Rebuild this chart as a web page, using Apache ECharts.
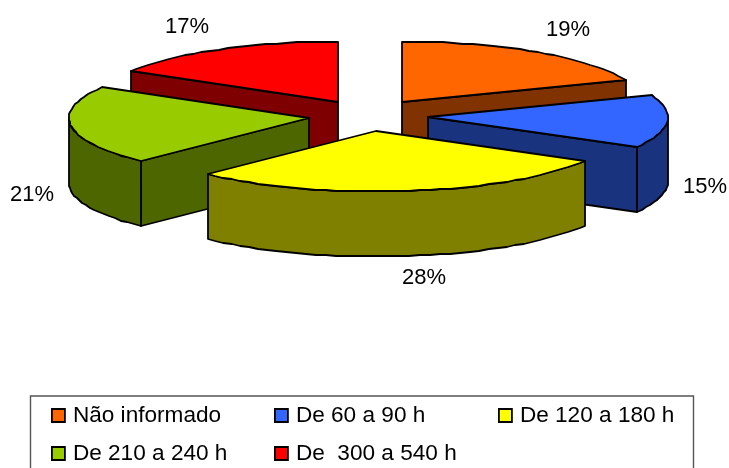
<!DOCTYPE html>
<html>
<head>
<meta charset="utf-8">
<style>html,body{margin:0;padding:0;background:#fff}#chart{width:729px;height:468px}</style>
<script src="https://cdn.jsdelivr.net/npm/echarts@6/dist/echarts.min.js"></script>
</head>
<body>
<div id="chart"></div>
<script>
// Workload bands and their share of respondents, clockwise from 12 o'clock.
const categories = ['Não informado', 'De 60 a 90 h', 'De 120 a 180 h', 'De 210 a 240 h', 'De  300 a 540 h'];
const shares = [19, 15, 28, 21, 17];
const topColors = ['#FF6600', '#3366FF', '#FFFF00', '#99CC00', '#FF0000'];
const wallColors = ['#803300', '#1A337F', '#808000', '#4D6600', '#7F0000'];
// Centre of each percentage label, by slice.
const labelCentres = [[568, 30], [705, 187], [424, 278], [32, 195], [187, 27]];
// Slices are painted far-to-near so the front ones overlap the back ones.
const paintOrder = [4, 0, 3, 1, 2];
// Foreshortening of the tilted disc, in degrees, at each slice boundary.
const tiltShift = [0, 0.6, -2.9, 1.3, 1.6, 0];

// Tilted-pie projection.
const pie = { cx: 368.5, cy: 115.5, rx: 240, ry: 60.5, depth: 65, explodeX: 60, explodeY: 16, step: 2.5 };
const RAD = Math.PI / 180;
const total = shares.reduce((a, b) => a + b, 0);

function sliceAngles(index) {
  const before = shares.slice(0, index).reduce((a, b) => a + b, 0);
  return [before / total * 360, (before + shares[index]) / total * 360];
}

function project(apex, deg) {
  return [
    Math.round(apex[0] + pie.rx * Math.sin(deg * RAD)),
    Math.round(apex[1] - pie.ry * Math.cos(deg * RAD))
  ];
}

function arc(apex, from, to) {
  const pts = [];
  const n = Math.max(1, Math.ceil((to - from) / pie.step));
  for (let i = 0; i <= n; i++) pts.push(project(apex, from + (to - from) * i / n));
  return pts;
}

function down(points) {
  return points.map(p => [p[0], p[1] + pie.depth]);
}

function renderSlice(index) {
  return function (params, api) {
    const [rawStart, rawEnd] = sliceAngles(index);
    const mid = (rawStart + rawEnd) / 2;
    const start = rawStart + tiltShift[index];
    const end = rawEnd + tiltShift[index + 1];
    const apex = [
      Math.round(pie.cx + pie.explodeX * Math.sin(mid * RAD)),
      Math.round(pie.cy - pie.explodeY * Math.cos(mid * RAD))
    ];
    const top = arc(apex, start, end);
    const children = [];
    const style = fill => ({ fill, stroke: '#000', lineWidth: 1.8, lineJoin: 'round' });
    const polygon = (points, fill) => children.push({ type: 'polygon', shape: { points }, style: style(fill) });
    const wall = wallColors[index];

    // Cut faces are seen only when they turn toward the viewer.
    const cutFace = deg => {
      const edge = [apex, project(apex, deg)];
      polygon(edge.concat(down(edge).reverse()), wall);
    };
    if (Math.sin(start * RAD) < 0) cutFace(start);
    if (Math.sin(end * RAD) > 0) cutFace(end);

    // Outer wall: the part of the rim on the near half of the ellipse.
    const wallFrom = Math.max(start, 90);
    const wallTo = Math.min(end, 270);
    if (wallTo > wallFrom) {
      const rim = arc(apex, wallFrom, wallTo);
      polygon(rim.concat(down(rim).reverse()), wall);
    }

    polygon([apex].concat(top), topColors[index]);

    const centre = labelCentres[index];
    children.push({
      type: 'text',
      style: {
        x: centre[0], y: centre[1],
        text: api.value(0) + '%',
        fill: '#000',
        font: '22px "Liberation Sans", Arial, sans-serif',
        align: 'center', verticalAlign: 'middle'
      }
    });
    return { type: 'group', children };
  };
}

const legendText = { fontFamily: '"Liberation Sans", Arial, sans-serif', fontSize: 22.6, color: '#000', padding: [0, 0, 0, 3] };
const legendColumn = (names, left) => ({
  orient: 'vertical', left, top: 404, padding: 0,
  data: names.map(name => ({ name, icon: 'rect' })),
  itemWidth: 13, itemHeight: 13, itemGap: 15, selectedMode: false,
  textStyle: legendText,
  itemStyle: { borderColor: '#000', borderWidth: 1.8 }
});

const chart = echarts.init(document.getElementById('chart'), null, { renderer: 'canvas' });
chart.setOption({
  animation: false,
  backgroundColor: '#fff',
  graphic: [{
    type: 'rect', z: -1,
    shape: { x: 30.5, y: 396, width: 663, height: 80 },
    style: { fill: '#fff', stroke: '#555', lineWidth: 1.4 }
  }],
  legend: [
    legendColumn([categories[0], categories[3]], 51),
    legendColumn([categories[1], categories[4]], 274),
    legendColumn([categories[2]], 498)
  ],
  series: paintOrder.map(i => ({
    type: 'custom',
    name: categories[i],
    coordinateSystem: 'none',
    data: [[shares[i]]],
    itemStyle: { color: topColors[i] },
    renderItem: renderSlice(i)
  }))
});
</script>
</body>
</html>
